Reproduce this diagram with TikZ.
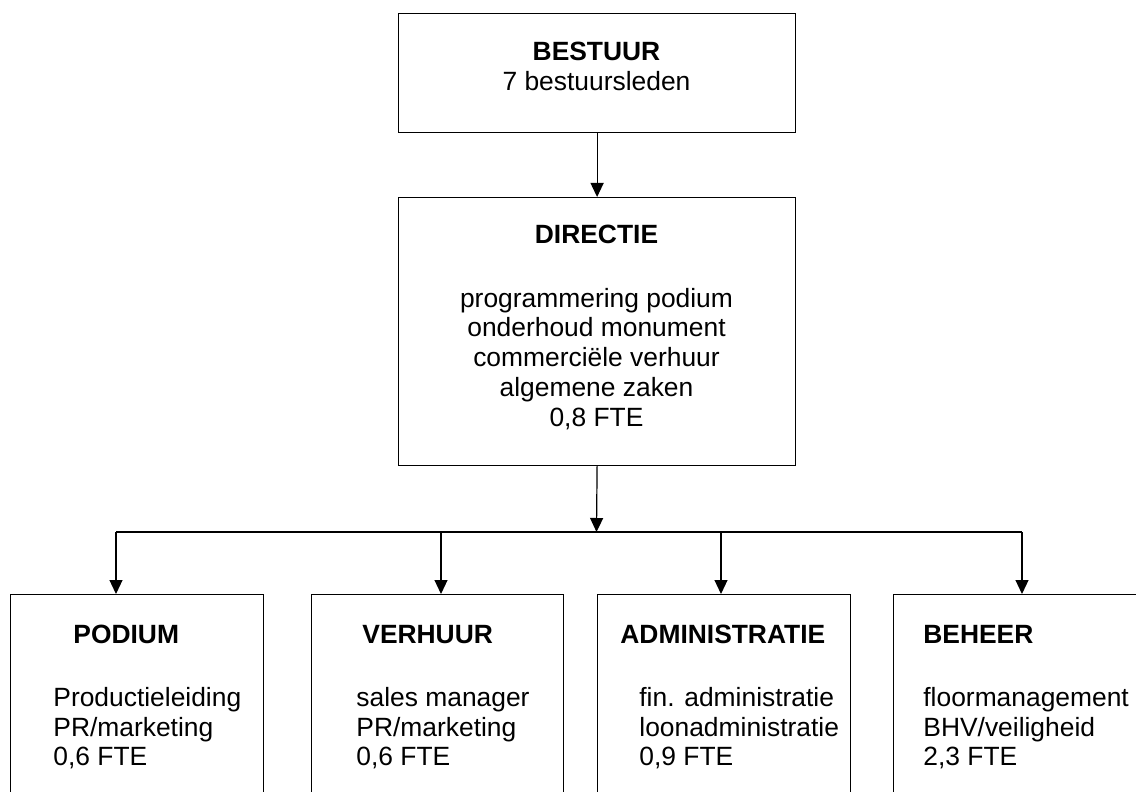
\documentclass[tikz,border=0pt]{standalone}
\usepackage{fontspec}
\setmainfont{Liberation Sans}
\usepackage{tikz}
\usetikzlibrary{arrows.meta}

\newcommand{\orgfont}{\fontsize{13.2}{15}\selectfont}

\begin{document}
\begin{tikzpicture}[x=0.5pt, y=-0.5pt,
    every node/.style={font=\orgfont},
    box/.style={draw, line width=0.6pt, inner sep=0pt, anchor=north west},
    title/.style={font=\orgfont\bfseries, anchor=base, inner sep=0pt},
    txt/.style={anchor=base, inner sep=0pt},
    titleL/.style={title, anchor=base west},
    txtL/.style={txt, anchor=base west},
    arr/.style={-{Triangle[length=7pt,width=6.5pt]}, line width=0.6pt}]
    \useasboundingbox (0,0) rectangle (1136,792);

    % Bestuur
    \node[box, minimum width=198.5pt, minimum height=59.5pt] (bestuur) at (398,13) {};
    \node[title] (bestuurT) at (596.5,61) {BESTUUR};
    \node[txt] (bestuurL) at (596.5,91) {7 bestuursleden};

    % Directie
    \node[box, minimum width=198.5pt, minimum height=134pt] (directie) at (398,197) {};
    \node[title] (directieT) at (596.5,243) {DIRECTIE};
    \foreach \regel [count=\i] in {programmering podium, onderhoud monument, commerciële verhuur, algemene zaken, {0,8 FTE}} {
        \node[txt] (directieL\i) at (596.5,{277.25+29.75*\i}) {\regel};
    }

    % Afdelingen (onderkant valt buiten de pagina)
    \node[box, minimum width=126.5pt, minimum height=115pt] (podium) at (10,594) {};
    \node[titleL] (podiumT) at (73,643) {PODIUM};
    \node[txtL] (podiumL1) at (53,706) {Productieleiding};
    \node[txtL] (podiumL2) at (53,736) {PR/marketing};
    \node[txtL] (podiumL3) at (53,765) {0,6 FTE};

    \node[box, minimum width=126pt, minimum height=115pt] (verhuur) at (311,594) {};
    \node[titleL] (verhuurT) at (362,643) {VERHUUR};
    \node[txtL] (verhuurL1) at (356,706) {sales manager};
    \node[txtL] (verhuurL2) at (356,736) {PR/marketing};
    \node[txtL] (verhuurL3) at (356,765) {0,6 FTE};

    \node[box, minimum width=126.5pt, minimum height=115pt] (admin) at (597,594) {};
    \node[titleL] (adminT) at (620,643) {ADMINISTRATIE};
    \node[txtL] (adminL1) at (639,706) {fin. administratie};
    \node[txtL] (adminL2) at (639,736) {loonadministratie};
    \node[txtL] (adminL3) at (639,765) {0,9 FTE};

    \node[box, minimum width=130pt, minimum height=115pt] (beheer) at (893,594) {};
    \node[titleL] (beheerT) at (923,643) {BEHEER};
    \node[txtL] (beheerL1) at (923,706) {floormanagement};
    \node[txtL] (beheerL2) at (923,736) {BHV/veiligheid};
    \node[txtL] (beheerL3) at (923,765) {2,3 FTE};

    % Verbindingen
    \coordinate (splits) at (596.5,532);
    \coordinate (tak1) at (116,532);
    \coordinate (tak2) at (441,532);
    \coordinate (tak3) at (721,532);
    \coordinate (tak4) at (1022,532);

    \draw[arr] (bestuur.south) -- (directie.north);
    \draw[arr] (directie.south) -- (splits);
    \draw[line width=1.1pt] (tak1) -- (tak4);
    \draw[arr] (tak1) -- (tak1 |- podium.north);
    \draw[arr] (tak2) -- (tak2 |- verhuur.north);
    \draw[arr] (tak3) -- (tak3 |- admin.north);
    \draw[arr] (tak4) -- (tak4 |- beheer.north);
\end{tikzpicture}
\end{document}
